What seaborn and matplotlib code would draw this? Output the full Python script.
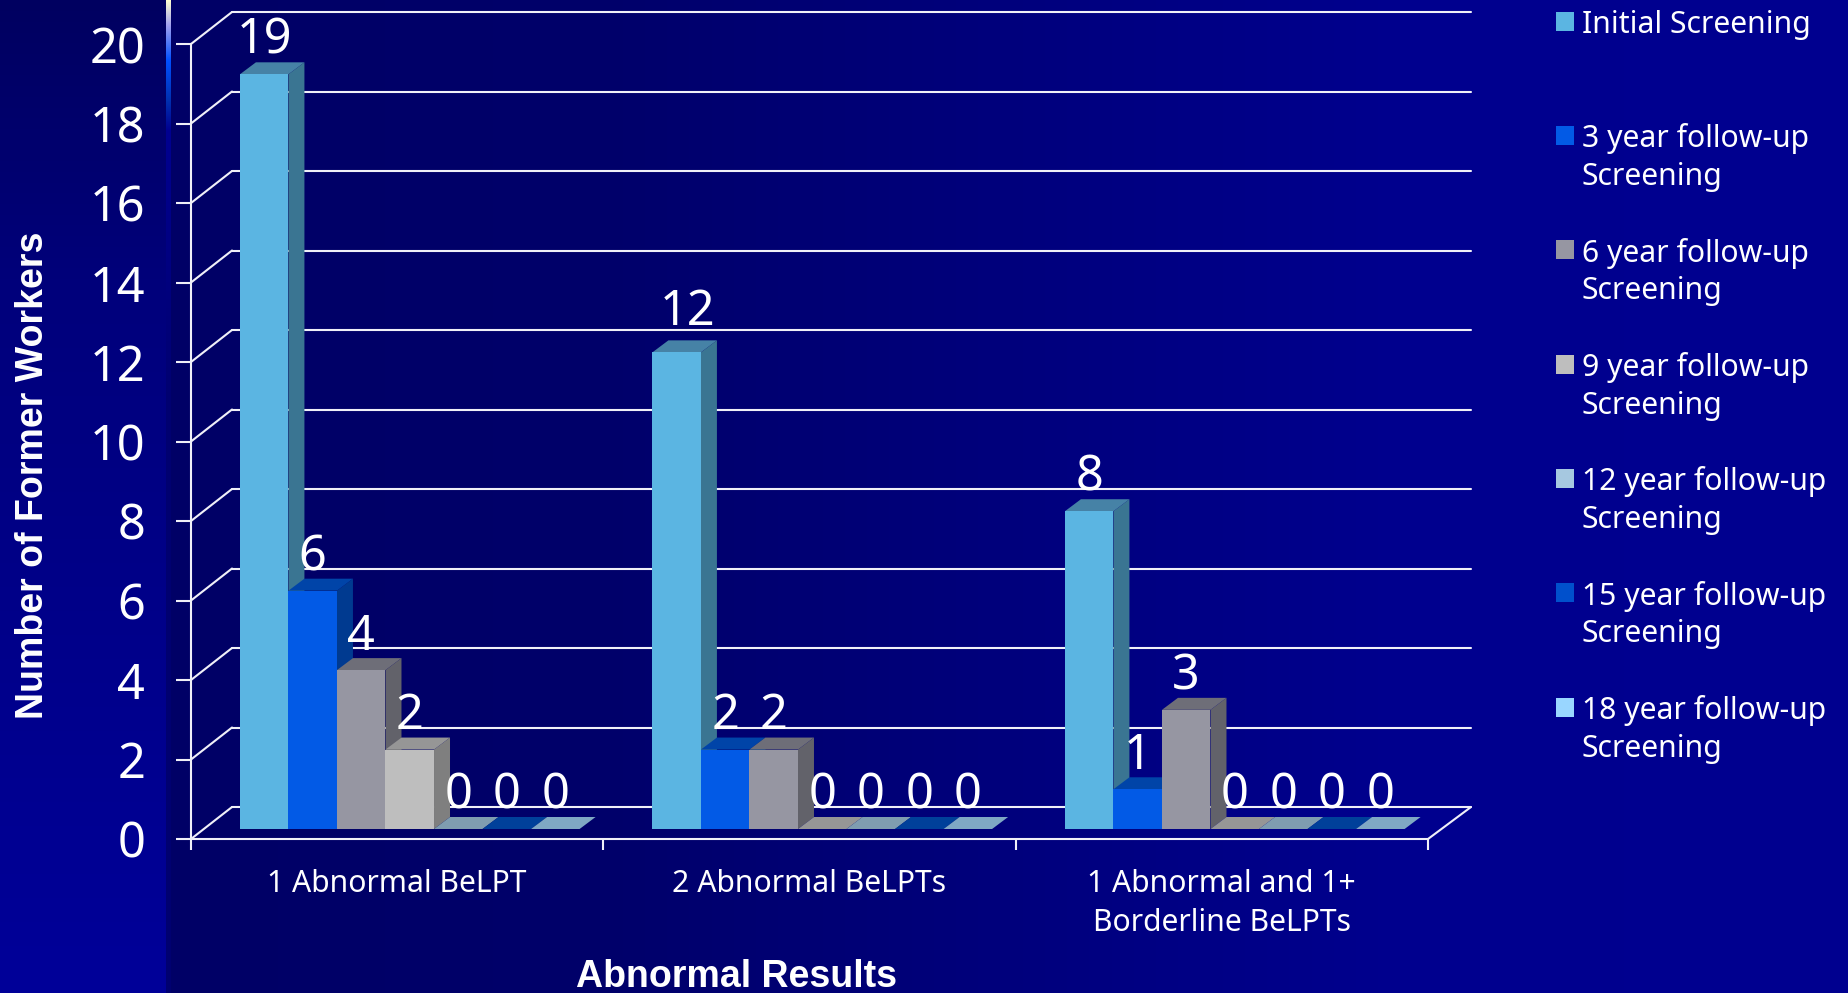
import matplotlib
matplotlib.use("Agg")
import matplotlib.pyplot as plt
import numpy as np
import pandas as pd
import seaborn as sns
from matplotlib.patches import ConnectionPatch, Polygon

# chart values
categories = ["1 Abnormal BeLPT", "2 Abnormal BeLPTs", "1 Abnormal and 1+\nBorderline BeLPTs"]
screenings = ["Initial Screening", "3 year follow-up\nScreening", "6 year follow-up\nScreening",
              "9 year follow-up\nScreening", "12 year follow-up\nScreening",
              "15 year follow-up\nScreening", "18 year follow-up\nScreening"]
initial = [19, 12, 8]
year_3 = [6, 2, 1]
year_6 = [4, 2, 3]
year_9 = [2, 0, 0]
year_12 = [0, 0, 0]
year_15 = [0, 0, 0]
year_18 = [0, 0, 0]
y_ticks = [0, 2, 4, 6, 8, 10, 12, 14, 16, 18, 20]

# front / top / side colour of each series
FRONT = ["#5BB5E2", "#025AE6", "#9696A2", "#BEBEBE", "#A6C8E0", "#0050CC", "#99D6FF"]
TOP = ["#4682A6", "#0044A8", "#6E6E78", "#969696", "#7F9DB0", "#00409A", "#7FA8C4"]
SIDE = ["#3A7592", "#003A90", "#62626A", "#7F7F7F", "#6C8A9C", "#003080", "#6C94AE"]

W, H = 1848, 993
LINE = "#F0F0F8"

sns.set_theme(style="white")
plt.rcParams["font.family"] = ["Noto Sans", "DejaVu Sans"]


def px_axes(fig, left, right, top, bottom):
    # axes placed by pixel edges of the picture
    return fig.add_axes([left / W, 1 - bottom / H, (right - left) / W, (bottom - top) / H])


def make_background():
    # slide background: darker panel left to right, plus the strip on the far left
    img = np.zeros((H, W, 3))
    xs = np.arange(W)
    ys = np.arange(H)
    img[:, :, 2] = np.interp(xs, [170, 600, 1400, 1848], [0x66, 0x6A, 0x8E, 0x90]) / 255
    img[:, :166, 2] = np.interp(ys, [0, 300, 993], [0x60, 0x7C, 0x99])[:, None] / 255
    # thin highlight bar at the top of the strip
    for chan, stops in enumerate(([0xFF, 0xA0, 0x00, 0x00, 0x00, 0x00],
                                  [0xFF, 0xA0, 0x50, 0x30, 0x00, 0x00],
                                  [0xD0, 0xF0, 0xFF, 0xB0, 0x90, 0x70])):
        img[:, 166:171, chan] = np.interp(ys, [0, 25, 60, 100, 130, 400], stops)[:, None] / 255
    return img


fig = plt.figure(figsize=(W / 100, H / 100), dpi=100)

ax_bg = fig.add_axes([0, 0, 1, 1], zorder=-1)
ax_bg.imshow(make_background(), aspect="auto")
ax_bg.set_axis_off()

# === back wall: gridlines only ===
back = px_axes(fig, 232, 1471, 12, 807)
back.patch.set_alpha(0)
back.set_xlim(0, 3)
back.set_ylim(0, 20)
back.set_yticks(y_ticks)
back.tick_params(left=False, labelleft=False, bottom=False, labelbottom=False)
back.grid(axis="y", color=LINE, linewidth=1.5)
for line in back.get_ygridlines():
    line.set_clip_on(False)
sns.despine(ax=back, left=True, bottom=True)

# === front axis: ticks and labels ===
front = px_axes(fig, 191, 1428, 44, 839)
front.patch.set_alpha(0)
front.set_xlim(0, 3)
front.set_ylim(0, 20)
front.set_yticks(y_ticks)
front.set_xticks([0, 1, 2, 3])
front.set_xticklabels([])
front.set_xticks([0.5, 1.5, 2.5], categories, minor=True, linespacing=1.38)
front.tick_params(axis="y", left=True, color=LINE, length=11, width=1.5, pad=22, labelsize=35, labelcolor="white")
front.tick_params(axis="x", which="major", bottom=True, color=LINE, length=8, width=1.5)
front.tick_params(axis="x", which="minor", bottom=False, pad=17.5, labelsize=21.7, labelcolor="white")
sns.despine(ax=front)
for side in ["left", "bottom"]:
    front.spines[side].set_color(LINE)
    front.spines[side].set_linewidth(1.5)
front.set_ylabel("Number of Former Workers", fontsize=27, fontweight="bold", color="white",
                 family="Liberation Sans")
front.yaxis.set_label_coords((51 - 191) / (1428 - 191), (839 - 475) / (839 - 44))
front.set_xlabel("Abnormal Results", fontsize=27, fontweight="bold", color="white",
                 family="Liberation Sans")
front.xaxis.set_label_coords((737 - 191) / (1428 - 191), -(977 - 839) / (839 - 44))
front.xaxis.label.set_va("center")

# floor/wall connecting lines
for v in y_ticks:
    fig.add_artist(ConnectionPatch((0, v), (0, v), coordsA=front.transData, coordsB=back.transData,
                                   color=LINE, linewidth=1.5))
fig.add_artist(ConnectionPatch((3, 0), (3, 0), coordsA=front.transData, coordsB=back.transData,
                               color=LINE, linewidth=1.5))

# === bars ===
df = pd.DataFrame({"category": categories * 7,
                   "screening": np.repeat(screenings, 3),
                   "count": initial + year_3 + year_6 + year_9 + year_12 + year_15 + year_18})

PX_PER_CAT = 412.5
PX_PER_UNIT = 39.72
bars = px_axes(fig, 203.5, 203.5 + 3 * PX_PER_CAT, 0, 829)
bars.patch.set_alpha(0)
sns.barplot(data=df, x="category", y="count", hue="screening", palette=FRONT, hue_order=screenings,
            width=0.8235, gap=0, saturation=1, linewidth=0, legend=False, ax=bars)
bars.set_xlim(-0.5, 2.5)
bars.set_ylim(0, 829 / PX_PER_UNIT)
bars.set_axis_off()

dx = 16 / PX_PER_CAT
dy = 12 / PX_PER_UNIT
for i, container in enumerate(bars.containers):
    for p in container:
        x0, w, h = p.get_x(), p.get_width(), p.get_height()
        x1 = x0 + w
        p.set_zorder(3 + i * 0.2)
        bars.add_patch(Polygon([(x1, 0), (x1 + dx, dy), (x1 + dx, h + dy), (x1, h)], facecolor=SIDE[i],
                               linewidth=0, clip_on=False, zorder=2.9 + i * 0.2))
        bars.add_patch(Polygon([(x0, h), (x1, h), (x1 + dx, h + dy), (x0 + dx, h + dy)], facecolor=TOP[i],
                               linewidth=0, clip_on=False, zorder=2.9 + i * 0.2))
    value_labels = bars.bar_label(container, padding=6, color="white", fontsize=35, zorder=20)
    if i == 0:
        # the "12" sits off-centre, up and to the right
        value_labels[1].xyann = (8, 11)

# === legend ===
handles = [c[0] for c in bars.containers]
labels = [s if "\n" in s else s + "\n " for s in screenings]
leg = fig.legend(handles, labels, loc="upper left", bbox_to_anchor=(1556 / W, 1 - 10 / H), frameon=False,
                 fontsize=21.7, labelcolor="white", handlelength=0.6, handleheight=0.6, handletextpad=0.26,
                 labelspacing=1.51, borderpad=0, borderaxespad=0)
for txt in leg.get_texts():
    txt.set_linespacing(1.34)
for handle in leg.legend_handles:
    handle.set_y(handle.get_y() + 16.7)

fig.savefig("out.png", dpi=100)
plt.close(fig)
